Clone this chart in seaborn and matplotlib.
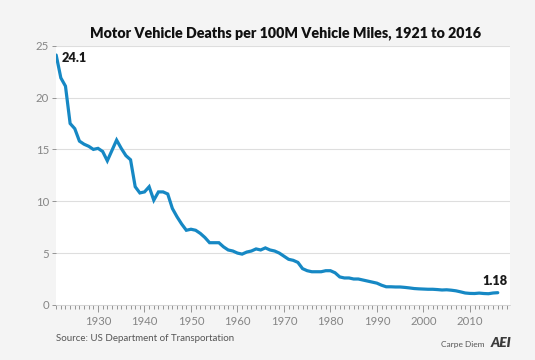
import matplotlib
matplotlib.use("Agg")
import matplotlib.pyplot as plt
from matplotlib.ticker import MultipleLocator
import pandas as pd
import seaborn as sns

years = list(range(1921, 2017))
deaths_per_100m = [
    24.1, 21.9, 21.1, 17.5, 17.0, 15.8, 15.5, 15.3, 15.0, 15.1,
    14.8, 13.9, 14.9, 15.9, 15.1, 14.4, 14.0, 11.4, 10.8, 10.9,
    11.4, 10.1, 10.9, 10.9, 10.7, 9.3, 8.5, 7.8, 7.2, 7.3,
    7.2, 6.9, 6.5, 6.0, 6.0, 6.0, 5.6, 5.3, 5.2, 5.0,
    4.9, 5.1, 5.2, 5.4, 5.3, 5.5, 5.3, 5.2, 5.0, 4.7,
    4.4, 4.3, 4.1, 3.5, 3.3, 3.2, 3.2, 3.2, 3.3, 3.3,
    3.1, 2.7, 2.6, 2.6, 2.5, 2.5, 2.4, 2.3, 2.2, 2.1,
    1.9, 1.75, 1.75, 1.73, 1.73, 1.69, 1.64, 1.58, 1.55, 1.53,
    1.51, 1.51, 1.48, 1.44, 1.46, 1.42, 1.36, 1.26, 1.15, 1.11,
    1.10, 1.14, 1.10, 1.08, 1.15, 1.18,
]
decade_ticks = [1930, 1940, 1950, 1960, 1970, 1980, 1990, 2000, 2010]
y_ticks = [0, 5, 10, 15, 20, 25]

df = pd.DataFrame({"year": years, "rate": deaths_per_100m})

sns.set_style("white")
plt.rcParams["font.family"] = ["Lato", "DejaVu Sans"]

bg = "#f4f4f4"
line_color = "#1688c4"
grey = "#858585"

fig = plt.figure(figsize=(5.35, 3.6), dpi=100, facecolor=bg)
ax = fig.add_axes([0.105, 0.153, 0.848, 0.72])
ax.set_facecolor("white")

sns.lineplot(data=df, x="year", y="rate", ax=ax, color=line_color,
             linewidth=2.3, solid_joinstyle="miter")

ax.set_xlim(1921, 2018.6)
ax.set_ylim(0, 25)
ax.set_xticks(decade_ticks)
ax.xaxis.set_minor_locator(MultipleLocator(1))
ax.set_yticks(y_ticks)
ax.set_xlabel("")
ax.set_ylabel("")

for s in ["top", "right", "left"]:
    ax.spines[s].set_visible(False)
ax.spines["bottom"].set_color("#cfcfcf")
ax.spines["bottom"].set_linewidth(0.6)

ax.yaxis.grid(True, color="#dedede", linewidth=0.8)
ax.set_axisbelow(True)

ax.tick_params(axis="x", which="major", direction="out", length=5, width=0.6,
               color=grey, labelsize=8.2, labelcolor=grey, pad=3, bottom=True)
ax.tick_params(axis="x", which="minor", direction="out", length=3, width=0.6,
               color=grey, bottom=True)
ax.tick_params(axis="y", direction="out", length=3, width=0.6, color=grey,
               labelsize=8.2, labelcolor=grey, pad=2, left=True)

ax.annotate(f"{deaths_per_100m[0]}", (years[0], deaths_per_100m[0]),
            xytext=(4, -2), textcoords="offset points", fontsize=9.2,
            fontweight="heavy", color="#1a1a1a", ha="left", va="center")
ax.annotate(f"{deaths_per_100m[-1]:.2f}", (years[-1], deaths_per_100m[-1]),
            xytext=(-11, 4), textcoords="offset points", fontsize=9.2,
            fontweight="heavy", color="#1a1a1a", ha="left", va="bottom")

fig.text(0.533, 0.908, "Motor Vehicle Deaths per 100M Vehicle Miles, 1921 to 2016",
         ha="center", va="center", fontsize=10.3, fontweight="heavy", color="#111111")
fig.text(0.105, 0.061, "Source: US Department of Transportation",
         ha="left", va="center", fontsize=7.0, color="#555555")
fig.text(0.905, 0.043, "Carpe Diem", ha="right", va="center",
         fontsize=6, color="#555555")
fig.text(0.955, 0.046, "AEI", ha="right", va="center", fontsize=10,
         fontweight="heavy", fontstyle="italic", color="#3a3a3a")

fig.savefig("out.png", dpi=100, facecolor=bg)
